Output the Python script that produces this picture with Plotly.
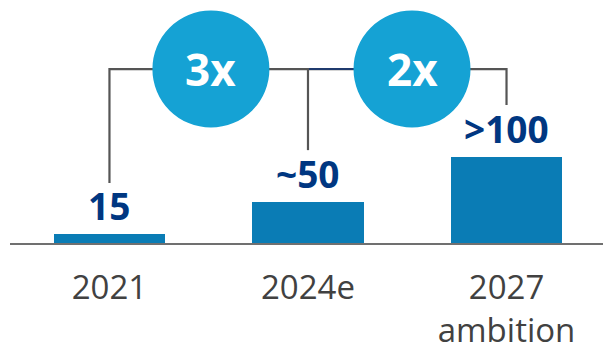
import plotly.graph_objects as go

# ---- data ----
categories = ["2021", "2024e", "2027<br>ambition"]
bar_heights = [10.5, 48, 100]          # bar heights as drawn (relative scale)
bar_labels = ["15", "~50", ">100"]
growth_labels = ["3x", "2x"]
growth_x = [0.511, 1.524]              # circle centres (category units)
connector_drop = [69.8, 108, 160.5]    # where the bracket legs end (y units)

# ---- style ----
BAR = "#0a7cb5"
CIRCLE = "#15a2d4"
NAVY = "#003781"
LINE = "#555555"
TICK = "#414141"
YMAX = 282.6
BRACKET_Y = 202.3
R = 58.5

xs = [0, 1, 2]
fig = go.Figure()
fig.add_trace(go.Bar(x=xs, y=bar_heights, width=0.56, marker_color=BAR,
                     marker_line_width=0, hoverinfo="skip"))

# bracket lines
fig.add_trace(go.Scatter(
    x=[xs[0], xs[0], xs[2], xs[2]],
    y=[connector_drop[0], BRACKET_Y, BRACKET_Y, connector_drop[2]],
    mode="lines", line=dict(color=LINE, width=2.2), hoverinfo="skip"))
fig.add_trace(go.Scatter(
    x=[xs[1], xs[1]], y=[BRACKET_Y, connector_drop[1]],
    mode="lines", line=dict(color=LINE, width=2.2), hoverinfo="skip"))
fig.add_trace(go.Scatter(
    x=[xs[1] + 0.005, growth_x[1] - 0.25], y=[BRACKET_Y, BRACKET_Y],
    mode="lines", line=dict(color="#1f3a6e", width=2), hoverinfo="skip"))

shapes = []
for gx in growth_x:
    shapes.append(dict(type="circle", xref="x", yref="y",
                       xsizemode="pixel", ysizemode="pixel",
                       xanchor=gx, yanchor=BRACKET_Y,
                       x0=-R, x1=R, y0=-R, y1=R,
                       fillcolor=CIRCLE, line=dict(width=0), layer="above"))

annotations = []
for gx, t in zip(growth_x, growth_labels):
    annotations.append(dict(x=gx, y=BRACKET_Y, xref="x", yref="y", text=t,
                            showarrow=False, xanchor="center", yanchor="middle",
                            font=dict(family="Open Sans", size=44, color="white",
                                      weight="bold")))
for x, h, t in zip(xs, bar_heights, bar_labels):
    annotations.append(dict(x=x, y=h, xref="x", yref="y", text=t,
                            showarrow=False, xanchor="center", yanchor="bottom",
                            yshift=1,
                            font=dict(family="Open Sans", size=37, color=NAVY,
                                      weight="bold")))

fig.update_layout(
    width=603, height=351,
    margin=dict(l=10, r=0, t=0, b=108),
    paper_bgcolor="white", plot_bgcolor="white",
    showlegend=False, bargap=0,
    shapes=shapes, annotations=annotations,
    xaxis=dict(range=[-0.501, 2.486], tickvals=xs, ticktext=categories,
               showgrid=False, zeroline=False, showline=True,
               linecolor="#707070", linewidth=2, ticks="",
               ticklabelstandoff=14, automargin=False,
               tickfont=dict(family="Open Sans", size=33, color=TICK)),
    yaxis=dict(range=[0, YMAX], visible=False, showgrid=False, zeroline=False,
               automargin=False),
)

fig.write_html("out.html")
